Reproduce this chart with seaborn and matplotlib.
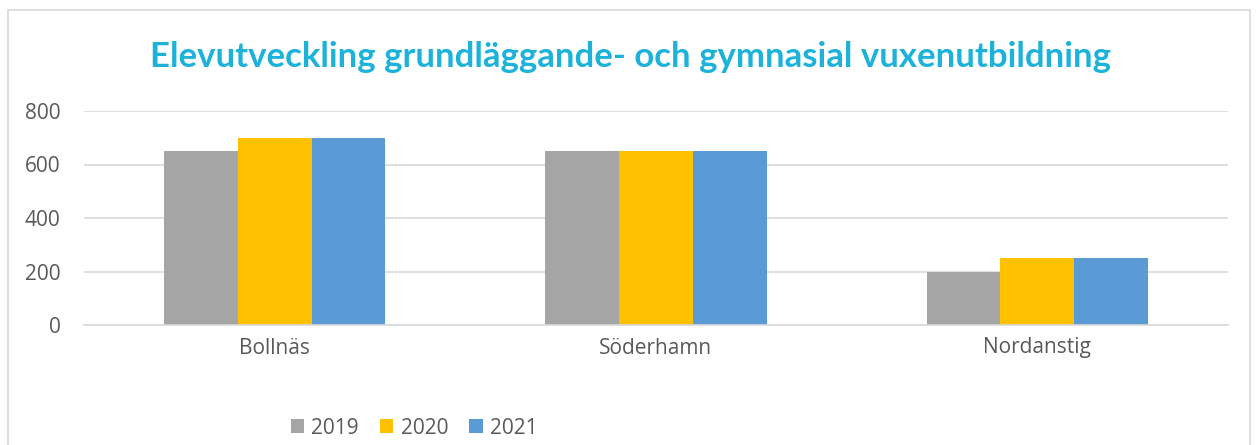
import matplotlib
matplotlib.use("Agg")
import matplotlib.pyplot as plt
import seaborn as sns
import pandas as pd
from matplotlib.patches import Rectangle

categories = ["Bollnäs", "Söderhamn", "Nordanstig"]
years = ["2019", "2020", "2021"]
values_2019 = [650, 650, 200]
values_2020 = [700, 650, 250]
values_2021 = [700, 650, 250]
yticks = [0, 200, 400, 600, 800]
title = "Elevutveckling grundläggande- och gymnasial vuxenutbildning"

colors = ["#A5A5A5", "#FFC000", "#5B9BD5"]

rows = []
for yr, vals in zip(years, [values_2019, values_2020, values_2021]):
    for c, v in zip(categories, vals):
        rows.append({"Kommun": c, "År": yr, "Elever": v})
df = pd.DataFrame(rows)

sns.set_theme(style="white")
plt.rcParams["font.family"] = ["Open Sans", "DejaVu Sans"]

fig = plt.figure(figsize=(12.6, 4.45), dpi=100)
ax = fig.add_axes([84/1260, 1 - 325/445, (1228-84)/1260, (325-111)/445])

sns.barplot(data=df, x="Kommun", y="Elever", hue="År", palette=colors,
            width=0.58, saturation=1, ax=ax, legend=True, edgecolor="none", linewidth=0)

ax.set_ylim(0, 800)
ax.set_yticks(yticks)
ax.set_xlim(-0.5, 2.5)
ax.yaxis.grid(True, color="#D9D9D9", linewidth=1.2)
ax.set_axisbelow(True)
for s in ["top", "right", "left"]:
    ax.spines[s].set_visible(False)
ax.spines["bottom"].set_color("#D9D9D9")
ax.spines["bottom"].set_linewidth(1.2)
ax.set_xlabel("")
ax.set_ylabel("")
ax.tick_params(axis="both", length=0, labelsize=15, labelcolor="#595959")
ax.tick_params(axis="x", pad=9)
ax.tick_params(axis="y", pad=17)

handles, labels = ax.get_legend_handles_labels()
ax.legend_.remove()
fig.legend(handles, labels, loc="center", bbox_to_anchor=(414/1260, 1 - 428/445), ncol=3,
           frameon=False, fontsize=15, handlelength=0.65, handleheight=0.65,
           handletextpad=0.35, columnspacing=1.0, labelcolor="#595959")

fig.text(631/1260, 1 - 57/445, title, ha="center", va="center",
         fontsize=25, fontweight="bold", color="#1CB2D9", family=["Lato", "DejaVu Sans"])

fig.patches.append(Rectangle((8/1260, -0.1), 1242/1260, 1.1 - 10/445, transform=fig.transFigure,
                             fill=False, edgecolor="#D9D9D9", linewidth=1.2))

fig.savefig("out.png", dpi=100, facecolor="white")
